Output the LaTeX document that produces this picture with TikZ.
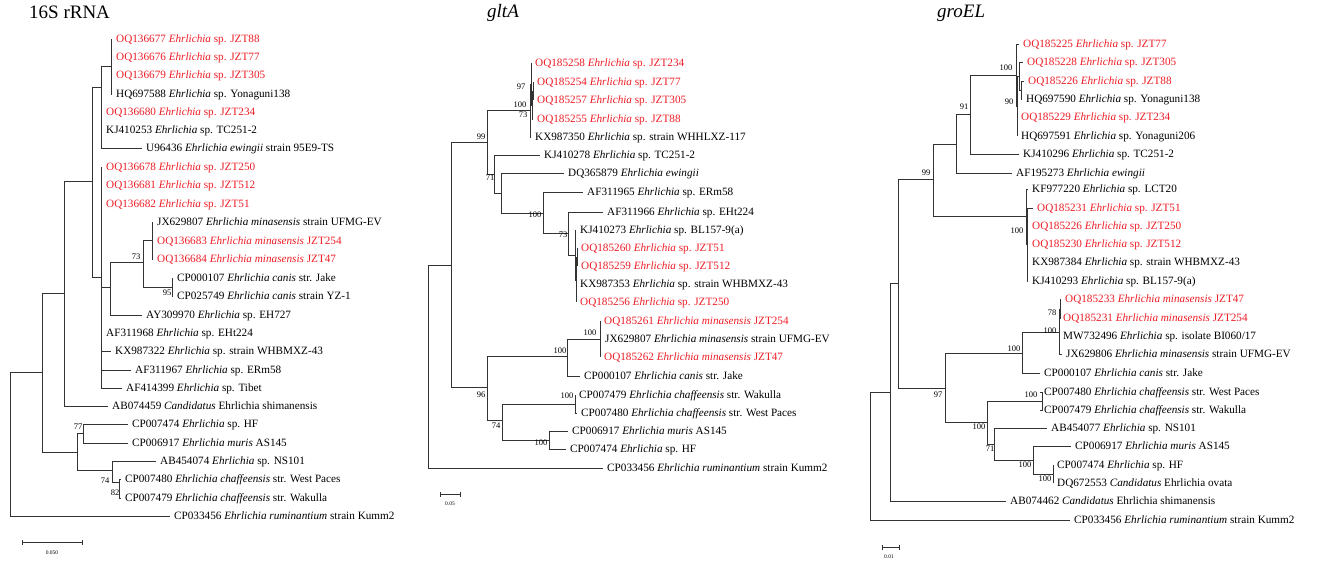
\documentclass[tikz,border=0pt]{standalone}
\usepackage{fontspec}
\setmainfont{Liberation Serif}
\usepackage{xcolor}
\usepackage{tikz}
\usetikzlibrary{arrows.meta}

\definecolor{qred}{RGB}{237,28,36}
\newcommand{\Eh}{\textit{Ehrlichia}}
\newcommand{\Cand}{\textit{Candidatus} Ehrlichia}
% branch from an inner node to inner nodes / to leaves
\newcommand{\treeedge}[2]{\foreach \kid in {#2} {\draw[branch] (#1) |- (\kid);}}
\newcommand{\leafedge}[2]{\foreach \kid in {#2} {\draw[branch] (#1) |- (\kid.west);}}

\begin{document}
\begin{tikzpicture}[x=1pt,y=-1pt,
  branch/.style={draw=black!80, line width=0.9pt},
  taxon/.style={anchor=west, inner xsep=4pt, inner ysep=0pt, text height=8pt, text depth=0.5pt, font=\fontsize{11.2}{12}\selectfont},
  query/.style={taxon, text=qred},
  boot/.style={inner sep=0pt, font=\fontsize{8.5}{9}\selectfont},
  title/.style={anchor=base west, inner sep=0pt, font=\fontsize{19}{20}\selectfont},
  scalebar/.style={draw=black!80, line width=0.8pt, {Bar[width=5pt]}-{Bar[width=5pt]}},
  scalelabel/.style={inner sep=0pt, font=\fontsize{5.5}{6}\selectfont}]

\useasboundingbox (0,0) rectangle (1325,565);

%%%%% 16S rRNA
\node[title] (t16s) at (29,18.5) {16S rRNA};

% leaves
\node[query] (r1) at (112,39) {OQ136677 \Eh{} sp. JZT88};
\node[query] (r2) at (112,57) {OQ136676 \Eh{} sp. JZT77};
\node[query] (r3) at (112,75) {OQ136679 \Eh{} sp. JZT305};
\node[taxon] (r4) at (112,94) {HQ697588 \Eh{} sp. Yonaguni138};
\node[query] (r5) at (102,112) {OQ136680 \Eh{} sp. JZT234};
\node[taxon] (r6) at (102,130) {KJ410253 \Eh{} sp. TC251-2};
\node[taxon] (r7) at (142,148) {U96436 \textit{Ehrlichia ewingii} strain 95E9-TS};
\node[query] (r8) at (102,167) {OQ136678 \Eh{} sp. JZT250};
\node[query] (r9) at (102,185) {OQ136681 \Eh{} sp. JZT512};
\node[query] (r10) at (102,204) {OQ136682 \Eh{} sp. JZT51};
\node[taxon] (r11) at (153,222) {JX629807 \textit{Ehrlichia minasensis} strain UFMG-EV};
\node[query] (r12) at (153,241) {OQ136683 \textit{Ehrlichia minasensis} JZT254};
\node[query] (r13) at (153,259) {OQ136684 \textit{Ehrlichia minasensis} JZT47};
\node[taxon] (r14) at (173,278) {CP000107 \textit{Ehrlichia canis} str. Jake};
\node[taxon] (r15) at (173,296) {CP025749 \textit{Ehrlichia canis} strain YZ-1};
\node[taxon] (r16) at (142,315) {AY309970 \Eh{} sp. EH727};
\node[taxon] (r17) at (102,333) {AF311968 \Eh{} sp. EHt224};
\node[taxon] (r18) at (111,351) {KX987322 \Eh{} sp. strain WHBMXZ-43};
\node[taxon] (r19) at (131,370) {AF311967 \Eh{} sp. ERm58};
\node[taxon] (r20) at (122,388) {AF414399 \Eh{} sp. Tibet};
\node[taxon] (r21) at (108,406) {AB074459 \Cand{} shimanensis};
\node[taxon] (r22) at (128,424) {CP007474 \Eh{} sp. HF};
\node[taxon] (r23) at (128,443) {CP006917 \textit{Ehrlichia muris} AS145};
\node[taxon] (r24) at (156,461) {AB454074 \Eh{} sp. NS101};
\node[taxon] (r25) at (121,479) {CP007480 \textit{Ehrlichia chaffeensis} str. West Paces};
\node[taxon] (r26) at (121,498) {CP007479 \textit{Ehrlichia chaffeensis} str. Wakulla};
\node[taxon] (r27) at (170,516) {CP033456 \textit{Ehrlichia ruminantium} strain Kumm2};

% inner nodes
\coordinate (rn0) at (10,444);
\coordinate (rn1) at (42,372);
\coordinate (rn2) at (64,293);
\coordinate (rn3) at (92,181);
\coordinate (rn4) at (101,87);
\coordinate (rn5) at (111,66);
\coordinate (rn6) at (101,277);
\coordinate (rn7) at (110,287);
\coordinate (rn8) at (143,262);
\coordinate (rn9) at (152,240);
\coordinate (rn10) at (172,287);
\coordinate (rn11) at (77,452);
\coordinate (rn12) at (83,433);
\coordinate (rn13) at (112,470);
\coordinate (rn14) at (119,482);

% branches
\treeedge{rn0}{rn1} \leafedge{rn0}{r27}
\treeedge{rn1}{rn2,rn11}
\treeedge{rn2}{rn3} \leafedge{rn2}{r21}
\treeedge{rn3}{rn4,rn6}
\treeedge{rn4}{rn5} \leafedge{rn4}{r5,r6,r7}
\leafedge{rn5}{r1,r2,r3,r4}
\treeedge{rn6}{rn7} \leafedge{rn6}{r8,r9,r10,r17,r18,r19,r20}
\treeedge{rn7}{rn8} \leafedge{rn7}{r16}
\treeedge{rn8}{rn9,rn10}
\leafedge{rn9}{r11,r12,r13}
\leafedge{rn10}{r14,r15}
\treeedge{rn11}{rn12,rn13}
\leafedge{rn12}{r22,r23}
\treeedge{rn13}{rn14} \leafedge{rn13}{r24}
\leafedge{rn14}{r25,r26}

% bootstrap values
\node[boot] (rb1) at (136,257) {73};
\node[boot] (rb2) at (167,293) {95};
\node[boot] (rb3) at (78,427) {77};
\node[boot] (rb4) at (105,481) {74};
\node[boot] (rb5) at (115,493) {82};

% scale
\coordinate (rs1) at (22,542);
\coordinate (rs2) at (83,542);
\draw[scalebar] (rs1) -- (rs2);
\node[scalelabel] (rsl) at (52,553) {0.050};

%%%%% gltA
\node[title] (tglt) at (487,17.5) {\textit{gltA}};

% leaves
\node[query] (g1) at (531,63) {OQ185258 \Eh{} sp. JZT234};
\node[query] (g2) at (533,82) {OQ185254 \Eh{} sp. JZT77};
\node[query] (g3) at (533,100) {OQ185257 \Eh{} sp. JZT305};
\node[query] (g4) at (533,119) {OQ185255 \Eh{} sp. JZT88};
\node[taxon] (g5) at (531,137) {KX987350 \Eh{} sp. strain WHHLXZ-117};
\node[taxon] (g6) at (540,155) {KJ410278 \Eh{} sp. TC251-2};
\node[taxon] (g7) at (564,173) {DQ365879 \textit{Ehrlichia ewingii}};
\node[taxon] (g8) at (583,192) {AF311965 \Eh{} sp. ERm58};
\node[taxon] (g9) at (603,212) {AF311966 \Eh{} sp. EHt224};
\node[taxon] (g10) at (576,230) {KJ410273 \Eh{} sp. BL157-9(a)};
\node[query] (g11) at (577,248) {OQ185260 \Eh{} sp. JZT51};
\node[query] (g12) at (577,266) {OQ185259 \Eh{} sp. JZT512};
\node[taxon] (g13) at (576,284) {KX987353 \Eh{} sp. strain WHBMXZ-43};
\node[query] (g14) at (576,302) {OQ185256 \Eh{} sp. JZT250};
\node[query] (g15) at (600,321) {OQ185261 \textit{Ehrlichia minasensis} JZT254};
\node[taxon] (g16) at (601,339) {JX629807 \textit{Ehrlichia minasensis} strain UFMG-EV};
\node[query] (g17) at (600,357) {OQ185262 \textit{Ehrlichia minasensis} JZT47};
\node[taxon] (g18) at (580,376) {CP000107 \textit{Ehrlichia canis} str. Jake};
\node[taxon] (g19) at (575,395) {CP007479 \textit{Ehrlichia chaffeensis} str. Wakulla};
\node[taxon] (g20) at (577,413) {CP007480 \textit{Ehrlichia chaffeensis} str. West Paces};
\node[taxon] (g21) at (568,431) {CP006917 \textit{Ehrlichia muris} AS145};
\node[taxon] (g22) at (566,449) {CP007474 \Eh{} sp. HF};
\node[taxon] (g23) at (603,468) {CP033456 \textit{Ehrlichia ruminantium} strain Kumm2};

% inner nodes
\coordinate (gn0) at (428,366);
\coordinate (gn1) at (451,265);
\coordinate (gn2) at (487,142);
\coordinate (gn3) at (530,110);
\coordinate (gn4) at (531,84);
\coordinate (gn5) at (532,105);
\coordinate (gn6) at (533,91);
\coordinate (gn7) at (494,174);
\coordinate (gn8) at (501,193);
\coordinate (gn9) at (543,213);
\coordinate (gn10) at (568,233);
\coordinate (gn11) at (575,255);
\coordinate (gn12) at (576,280);
\coordinate (gn13) at (577,257);
\coordinate (gn14) at (487,387);
\coordinate (gn15) at (567,356);
\coordinate (gn16) at (600,339);
\coordinate (gn17) at (502,420);
\coordinate (gn18) at (575,404);
\coordinate (gn19) at (549,440);

% branches
\treeedge{gn0}{gn1} \leafedge{gn0}{g23}
\treeedge{gn1}{gn2,gn14}
\treeedge{gn2}{gn3,gn7}
\treeedge{gn3}{gn4} \leafedge{gn3}{g5}
\treeedge{gn4}{gn5} \leafedge{gn4}{g1}
\treeedge{gn5}{gn6} \leafedge{gn5}{g4}
\leafedge{gn6}{g2,g3}
\treeedge{gn7}{gn8} \leafedge{gn7}{g6}
\treeedge{gn8}{gn9} \leafedge{gn8}{g7}
\treeedge{gn9}{gn10} \leafedge{gn9}{g8}
\treeedge{gn10}{gn11} \leafedge{gn10}{g9}
\treeedge{gn11}{gn12} \leafedge{gn11}{g10}
\treeedge{gn12}{gn13} \leafedge{gn12}{g13,g14}
\leafedge{gn13}{g11,g12}
\treeedge{gn14}{gn15,gn17}
\treeedge{gn15}{gn16} \leafedge{gn15}{g18}
\leafedge{gn16}{g15,g16,g17}
\treeedge{gn17}{gn18,gn19}
\leafedge{gn18}{g19,g20}
\leafedge{gn19}{g21,g22}

% bootstrap values
\node[boot] (gb1) at (521,87) {97};
\node[boot] (gb2) at (520,105) {100};
\node[boot] (gb3) at (523,115) {73};
\node[boot] (gb4) at (481,137) {99};
\node[boot] (gb5) at (490,178) {71};
\node[boot] (gb6) at (535,215) {100};
\node[boot] (gb7) at (563,235) {73};
\node[boot] (gb8) at (560,351) {100};
\node[boot] (gb9) at (590,333) {100};
\node[boot] (gb10) at (481,395) {96};
\node[boot] (gb11) at (567,396) {100};
\node[boot] (gb12) at (496,426) {74};
\node[boot] (gb13) at (541,443) {100};

% scale
\coordinate (gs1) at (440,494);
\coordinate (gs2) at (461,494);
\draw[scalebar] (gs1) -- (gs2);
\node[scalelabel] (gsl) at (450,504) {0.05};

%%%%% groEL
\node[title] (tgro) at (937,17) {\textit{groEL}};

% leaves
\node[query] (e1) at (1019,44) {OQ185225 \Eh{} sp. JZT77};
\node[query] (e2) at (1023,62) {OQ185228 \Eh{} sp. JZT305};
\node[query] (e3) at (1024,81) {OQ185226 \Eh{} sp. JZT88};
\node[taxon] (e4) at (1022,99) {HQ697590 \Eh{} sp. Yonaguni138};
\node[query] (e5) at (1017,117) {OQ185229 \Eh{} sp. JZT234};
\node[taxon] (e6) at (1017,136) {HQ697591 \Eh{} sp. Yonaguni206};
\node[taxon] (e7) at (1019,154) {KJ410296 \Eh{} sp. TC251-2};
\node[taxon] (e8) at (1012,173) {AF195273 \textit{Ehrlichia ewingii}};
\node[taxon] (e9) at (1028,189) {KF977220 \Eh{} sp. LCT20};
\node[query] (e10) at (1033,208) {OQ185231 \Eh{} sp. JZT51};
\node[query] (e11) at (1028,226) {OQ185226 \Eh{} sp. JZT250};
\node[query] (e12) at (1028,244) {OQ185230 \Eh{} sp. JZT512};
\node[taxon] (e13) at (1028,262) {KX987384 \Eh{} sp. strain WHBMXZ-43};
\node[taxon] (e14) at (1028,281) {KJ410293 \Eh{} sp. BL157-9(a)};
\node[query] (e15) at (1061,299) {OQ185233 \textit{Ehrlichia minasensis} JZT47};
\node[query] (e16) at (1059,318) {OQ185231 \textit{Ehrlichia minasensis} JZT254};
\node[taxon] (e17) at (1059,336) {MW732496 \Eh{} sp. isolate BI060/17};
\node[taxon] (e18) at (1062,354) {JX629806 \textit{Ehrlichia minasensis} strain UFMG-EV};
\node[taxon] (e19) at (1040,373) {CP000107 \textit{Ehrlichia canis} str. Jake};
\node[taxon] (e20) at (1040,392) {CP007480 \textit{Ehrlichia chaffeensis} str. West Paces};
\node[taxon] (e21) at (1040,410) {CP007479 \textit{Ehrlichia chaffeensis} str. Wakulla};
\node[taxon] (e22) at (1047,428) {AB454077 \Eh{} sp. NS101};
\node[taxon] (e23) at (1071,446) {CP006917 \textit{Ehrlichia muris} AS145};
\node[taxon] (e24) at (1053,465) {CP007474 \Eh{} sp. HF};
\node[taxon] (e25) at (1053,483) {DQ672553 \Cand{} ovata};
\node[taxon] (e26) at (1006,501) {AB074462 \Cand{} shimanensis};
\node[taxon] (e27) at (1070,520) {CP033456 \textit{Ehrlichia ruminantium} strain Kumm2};

% inner nodes
\coordinate (en0) at (870,456);
\coordinate (en1) at (890,392);
\coordinate (en2) at (898,283);
\coordinate (en3) at (933,179);
\coordinate (en4) at (956,144);
\coordinate (en5) at (970,114);
\coordinate (en6) at (1016,75);
\coordinate (en7) at (1017,106);
\coordinate (en8) at (1019,76);
\coordinate (en9) at (1021,90);
\coordinate (en10) at (1026,216);
\coordinate (en11) at (1027,244);
\coordinate (en12) at (945,388);
\coordinate (en13) at (1022,353);
\coordinate (en14) at (1059,332);
\coordinate (en15) at (1060,309);
\coordinate (en16) at (987,422);
\coordinate (en17) at (1042,401);
\coordinate (en18) at (994,444);
\coordinate (en19) at (1033,460);
\coordinate (en20) at (1053,474);

% branches
\treeedge{en0}{en1} \leafedge{en0}{e27}
\treeedge{en1}{en2} \leafedge{en1}{e26}
\treeedge{en2}{en3,en12}
\treeedge{en3}{en4,en10}
\treeedge{en4}{en5} \leafedge{en4}{e8}
\treeedge{en5}{en6} \leafedge{en5}{e7}
\treeedge{en6}{en7} \leafedge{en6}{e1}
\treeedge{en7}{en8} \leafedge{en7}{e5,e6}
\treeedge{en8}{en9} \leafedge{en8}{e2}
\leafedge{en9}{e3,e4}
\treeedge{en10}{en11} \leafedge{en10}{e9}
\leafedge{en11}{e10,e11,e12,e13,e14}
\treeedge{en12}{en13,en16}
\treeedge{en13}{en14} \leafedge{en13}{e19}
\treeedge{en14}{en15} \leafedge{en14}{e17,e18}
\leafedge{en15}{e15,e16}
\treeedge{en16}{en17,en18}
\leafedge{en17}{e20,e21}
\treeedge{en18}{en19} \leafedge{en18}{e22}
\treeedge{en19}{en20} \leafedge{en19}{e23}
\leafedge{en20}{e24,e25}

% bootstrap values
\node[boot] (eb1) at (1006,68) {100};
\node[boot] (eb2) at (1009,102) {90};
\node[boot] (eb3) at (964,107) {91};
\node[boot] (eb4) at (926,173) {99};
\node[boot] (eb5) at (1017,231) {100};
\node[boot] (eb6) at (1052,313) {78};
\node[boot] (eb7) at (1050,331) {100};
\node[boot] (eb8) at (1014,349) {100};
\node[boot] (eb9) at (938,395) {97};
\node[boot] (eb10) at (1031,395) {100};
\node[boot] (eb11) at (979,427) {100};
\node[boot] (eb12) at (990,449) {71};
\node[boot] (eb13) at (1025,465) {100};
\node[boot] (eb14) at (1045,479) {100};

% scale
\coordinate (es1) at (882,547);
\coordinate (es2) at (900,547);
\draw[scalebar] (es1) -- (es2);
\node[scalelabel] (esl) at (889,557) {0.01};
\end{tikzpicture}
\end{document}
